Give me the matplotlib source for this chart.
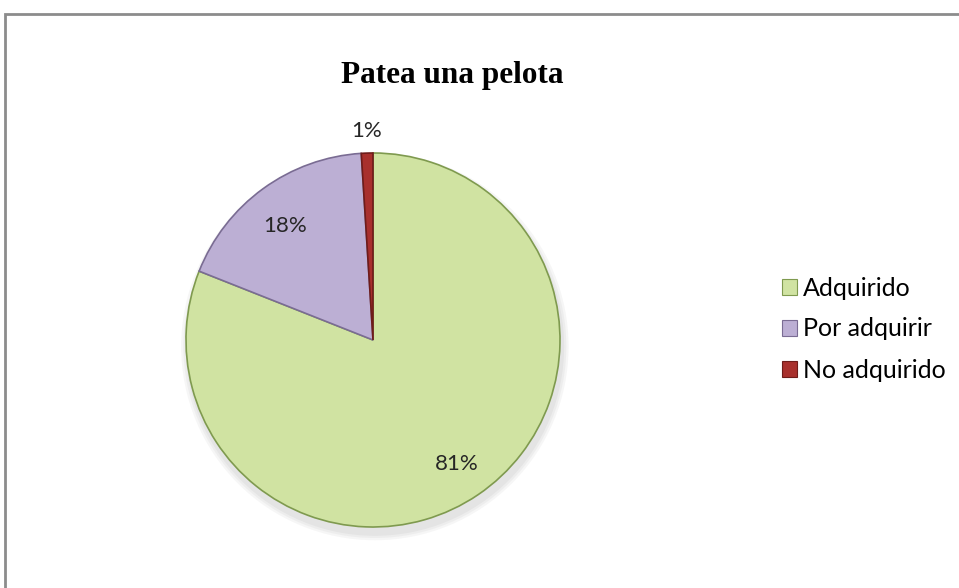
import numpy as np
import matplotlib.pyplot as plt
from matplotlib.patches import Rectangle, Circle

labels = ["Adquirido", "Por adquirir", "No adquirido"]
values = [81, 18, 1]
colors = ["#d0e3a2", "#bcafd4", "#a8302d"]
edges = ["#7f9a4f", "#7a6c93", "#6e1c1a"]


def main():
    fig = plt.figure(figsize=(9.59, 5.88), dpi=100)
    fig.patch.set_facecolor("white")

    # grey frame around the chart area
    fig.patches.append(Rectangle((5 / 959, -0.05), 1.2, 1 - 14 / 588 + 0.05,
                                 transform=fig.transFigure, fill=False,
                                 edgecolor="#8c8c8c", linewidth=2))

    # pie axes, centre (373, 340) px, radius 187 px
    r = 187
    cx, cy = 373, 340
    ax = fig.add_axes([(cx - r) / 959, 1 - (cy + r) / 588, 2 * r / 959, 2 * r / 588])

    # soft shadow
    for i, a in enumerate([0.05, 0.05, 0.06]):
        ax.add_patch(Circle((0.01, -0.035), 1.0 + 0.012 * (3 - i), color="#555555",
                            alpha=a, zorder=0, linewidth=0, clip_on=False))

    wedges, texts, autotexts = ax.pie(values, colors=colors, startangle=90,
                                      counterclock=False, radius=1.0,
                                      autopct="%d%%", pctdistance=0.8,
                                      wedgeprops=dict(linewidth=1.2),
                                      textprops=dict(fontsize=16, family="Lato",
                                                     color="#262626"))
    for w, e in zip(wedges, edges):
        w.set_edgecolor(e)
        w.set_zorder(2)
    ax.set_xlim(-1, 1)
    ax.set_ylim(-1, 1)
    ax.set_aspect("equal")
    ax.axis("off")

    # small slice label sits outside the pie
    w = wedges[2]
    mid = np.deg2rad((w.theta1 + w.theta2) / 2)
    autotexts[2].set_position((1.12 * np.cos(mid), 1.12 * np.sin(mid)))
    x18, y18 = autotexts[1].get_position()
    autotexts[1].set_position((x18, y18 - 0.04))

    fig.text(452 / 959, 1 - 83 / 588, "Patea una pelota", ha="center", va="baseline",
             fontsize=22.5, fontweight="bold", family="Liberation Serif")

    handles = [Rectangle((0, 0), 1, 1, facecolor=c, edgecolor=e, linewidth=0.8)
               for c, e in zip(colors, edges)]
    fig.legend(handles, labels, loc="center left", bbox_to_anchor=(782 / 959, 1 - 329 / 588),
               frameon=False, prop=dict(family="Lato", size=18),
               borderpad=0, borderaxespad=0,
               handlelength=0.6, handleheight=0.6, handletextpad=0.25,
               labelspacing=0.72)

    fig.savefig("out.png", dpi=100)


if __name__ == "__main__":
    main()
